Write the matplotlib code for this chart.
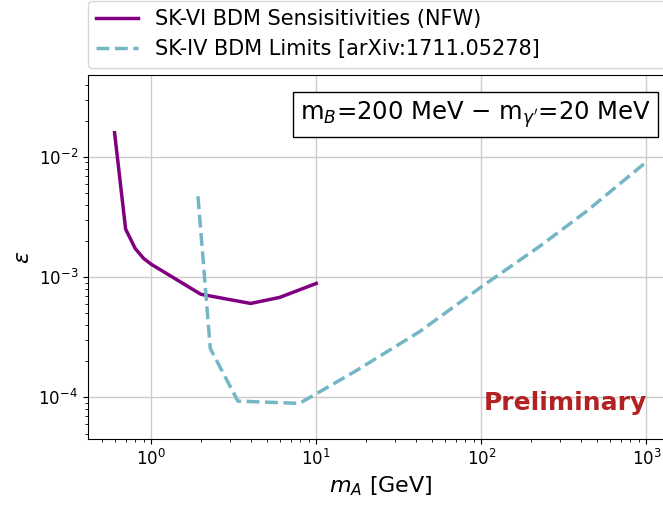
import matplotlib

matplotlib.use("Agg")
import matplotlib.pyplot as plt

# SK-VI sensitivity (NFW)
sk6_mass = [0.6, 0.7, 0.8, 0.9, 1.0, 2.0, 4.0, 6.0, 10.0]
sk6_eps = [0.0159, 0.00251, 0.00173, 0.00143, 0.00128, 0.00072, 0.000604, 0.000678, 0.000886]

# SK-IV limits [arXiv:1711.05278]
sk4_mass = [1.92, 2.28, 3.35, 7.9, 10.0, 17.0, 42.0, 100.0, 225.0, 430.0, 1000.0]
sk4_eps = [4.7e-3, 2.55e-4, 9.3e-5, 8.9e-5, 1.07e-4, 1.63e-4, 3.5e-4, 8.3e-4, 1.8e-3, 3.5e-3, 9.1e-3]

fig = plt.figure(figsize=(6.63, 5.05), dpi=100)
ax = fig.add_axes([0.1327, 0.130, 0.8824, 0.7214])

ax.plot(sk6_mass, sk6_eps, color="purple", lw=2.5, label="SK-VI BDM Sensisitivities (NFW)")
ax.plot(sk4_mass, sk4_eps, color="#74b6c6", lw=2.5, ls="--", label="SK-IV BDM Limits [arXiv:1711.05278]")

ax.set_xscale("log")
ax.set_yscale("log")
ax.set_ylim(4.47e-5, 0.048)
ax.grid(True, which="major", color="#cccccc", lw=1)
ax.tick_params(labelsize=12)
ax.set_xlabel("$m_A$ [GeV]", fontsize=16)
ax.set_ylabel(r"$\epsilon$", fontsize=16)

ax.legend(loc="lower left", bbox_to_anchor=(0, 1.02, 1, 0.2), mode="expand",
          borderaxespad=0, fontsize=15)

ax.text(0.962, 0.933, r"m$_B$=200 MeV $-$ m$_{\gamma'}$=20 MeV", transform=ax.transAxes,
        ha="right", va="top", fontsize=17.5,
        bbox=dict(boxstyle="square,pad=0.3", facecolor="white", edgecolor="black"))
ax.text(0.9556, 0.0996, "Preliminary", transform=ax.transAxes, ha="right", va="center",
        fontsize=18, fontweight="bold", color="#b22222")

fig.savefig("out.png", dpi=100)
